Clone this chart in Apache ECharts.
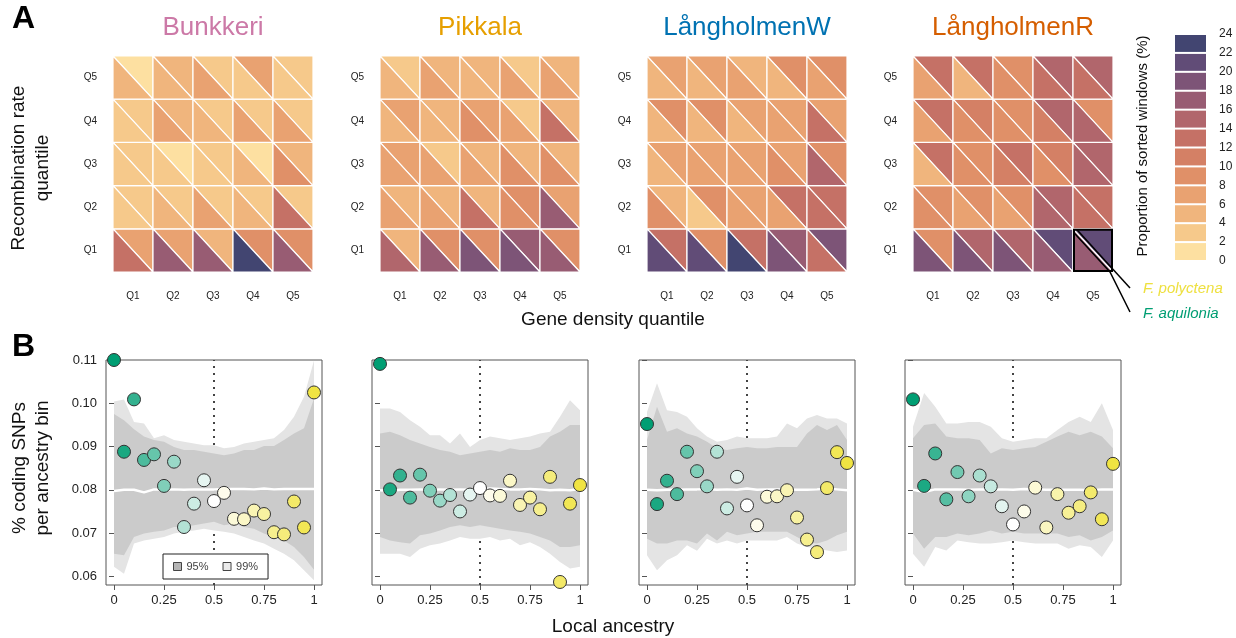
<!DOCTYPE html>
<html><head><meta charset="utf-8">
<script src="https://cdn.jsdelivr.net/npm/echarts@6/dist/echarts.min.js"></script>
<style>html,body{margin:0;padding:0;background:#fff}#c{width:1236px;height:638px}</style>
</head><body><div id="c"></div>
<script>
// ---------- Panel A data ----------
const populations = ['Bunkkeri', 'Pikkala', 'LångholmenW', 'LångholmenR'];
const popColors = ['#CC79A7', '#E69F00', '#0072B2', '#D55E00'];
const quantiles = ['Q1', 'Q2', 'Q3', 'Q4', 'Q5'];
// proportion of sorted windows (%), rows Q5 (top) .. Q1 (bottom), columns gene density Q1..Q5
// upper-right triangle = F. polyctena, lower-left triangle = F. aquilonia
const bunkkeriPolyctena = [
  [1, 5, 3, 7, 3],
  [3, 5, 3, 3, 3],
  [3, 1, 3, 1, 5],
  [3, 3, 3, 3, 3],
  [7, 7, 5, 9, 9]];
const bunkkeriAquilonia = [
  [5, 5, 7, 3, 3],
  [3, 7, 5, 7, 7],
  [3, 3, 3, 5, 9],
  [3, 5, 7, 5, 13],
  [13, 17, 17, 23, 17]];
const pikkalaPolyctena = [
  [3, 5, 5, 3, 5],
  [7, 5, 7, 3, 5],
  [7, 3, 5, 5, 5],
  [5, 5, 5, 9, 7],
  [5, 9, 9, 17, 9]];
const pikkalaAquilonia = [
  [5, 7, 5, 7, 7],
  [5, 5, 9, 7, 13],
  [7, 7, 7, 9, 9],
  [7, 7, 13, 9, 17],
  [15, 17, 19, 19, 17]];
const langWPolyctena = [
  [7, 7, 5, 9, 9],
  [9, 9, 7, 7, 7],
  [7, 7, 7, 7, 9],
  [5, 9, 7, 13, 13],
  [13, 9, 13, 17, 19]];
const langWAquilonia = [
  [5, 5, 7, 5, 7],
  [5, 5, 5, 7, 13],
  [5, 7, 7, 9, 15],
  [9, 3, 7, 7, 13],
  [21, 21, 23, 19, 13]];
const langRPolyctena = [
  [13, 13, 9, 15, 15],
  [13, 11, 9, 15, 9],
  [13, 9, 13, 11, 15],
  [9, 9, 9, 15, 13],
  [9, 15, 15, 21, 21]];
const langRAquilonia = [
  [7, 5, 9, 13, 13],
  [7, 9, 9, 11, 15],
  [5, 9, 11, 9, 15],
  [9, 7, 7, 15, 13],
  [19, 19, 19, 17, 17]];
const colorBreaks = [0, 2, 4, 6, 8, 10, 12, 14, 16, 18, 20, 22, 24];
const binColors = ['#FDE0A1', '#F6C98B', '#F0B57D', '#E9A271', '#E09068', '#D48065',
                   '#C57166', '#B1666C', '#985C73', '#7D5477', '#614C77', '#424571'];

// ---------- Panel B data ----------
const ancestryBins20 = [0, 0.05, 0.1, 0.15, 0.2, 0.25, 0.3, 0.35, 0.4, 0.45, 0.5, 0.55, 0.6, 0.65, 0.7, 0.75, 0.8, 0.85, 0.9, 0.95, 1];
const ancestryBins18 = [0, 0.0556, 0.1111, 0.1667, 0.2222, 0.2778, 0.3333, 0.3889, 0.4444, 0.5, 0.5556, 0.6111, 0.6667, 0.7222, 0.7778, 0.8333, 0.8889, 0.9444, 1];
const xTicks = [0, 0.25, 0.5, 0.75, 1];
const yTicks = [0.06, 0.07, 0.08, 0.09, 0.10, 0.11];

const bunkkeriSNPs = [0.1100, 0.0888, 0.1009, 0.0869, 0.0882, 0.0809, 0.0865, 0.0714, 0.0768, 0.0822, 0.0774, 0.0793, 0.0733, 0.0732, 0.0752, 0.0744, 0.0702, 0.0697, 0.0773, 0.0713, 0.1025];
const pikkalaSNPs = [0.1091, 0.0801, 0.0833, 0.0782, 0.0835, 0.0798, 0.0775, 0.0788, 0.0750, 0.0789, 0.0804, 0.0787, 0.0786, 0.0821, 0.0765, 0.0782, 0.0755, 0.0830, 0.0587, 0.0768, 0.0811];
const langWSNPs = [0.0952, 0.0767, 0.0821, 0.0790, 0.0888, 0.0843, 0.0808, 0.0888, 0.0757, 0.0830, 0.0764, 0.0718, 0.0784, 0.0785, 0.0799, 0.0736, 0.0685, 0.0656, 0.0804, 0.0887, 0.0862];
const langRSNPs = [0.1009, 0.0809, 0.0884, 0.0778, 0.0841, 0.0785, 0.0833, 0.0808, 0.0762, 0.0720, 0.0750, 0.0805, 0.0713, 0.0790, 0.0747, 0.0762, 0.0794, 0.0732, 0.0860];

const bunkkeriUpper99 = [0.1004, 0.1009, 0.0957, 0.0953, 0.0919, 0.0926, 0.0915, 0.0911, 0.0907, 0.0903, 0.0903, 0.0896, 0.0899, 0.0907, 0.0911, 0.0915, 0.0919, 0.0938, 0.0969, 0.1015, 0.1099];
const bunkkeriUpper95 = [0.0975, 0.0961, 0.0940, 0.0923, 0.0915, 0.0911, 0.0899, 0.0892, 0.0892, 0.0888, 0.0884, 0.0880, 0.0884, 0.0892, 0.0892, 0.0901, 0.0901, 0.0915, 0.0930, 0.0942, 0.1011];
const bunkkeriLower95 = [0.0652, 0.0649, 0.0691, 0.0699, 0.0703, 0.0706, 0.0714, 0.0714, 0.0718, 0.0722, 0.0726, 0.0718, 0.0722, 0.0714, 0.0710, 0.0699, 0.0691, 0.0683, 0.0668, 0.0645, 0.0615];
const bunkkeriLower99 = [0.0622, 0.0606, 0.0676, 0.0683, 0.0687, 0.0691, 0.0699, 0.0703, 0.0706, 0.0710, 0.0706, 0.0703, 0.0699, 0.0691, 0.0683, 0.0676, 0.0664, 0.0652, 0.0637, 0.0614, 0.0591];
const bunkkeriMedian = [0.0797, 0.0800, 0.0800, 0.0794, 0.0801, 0.0801, 0.0801, 0.0800, 0.0801, 0.0801, 0.0801, 0.0802, 0.0802, 0.0802, 0.0801, 0.0803, 0.0801, 0.0802, 0.0802, 0.0802, 0.0802];

const pikkalaUpper99 = [0.0988, 0.0988, 0.0980, 0.0961, 0.0946, 0.0926, 0.0926, 0.0907, 0.0930, 0.0899, 0.0915, 0.0923, 0.0919, 0.0915, 0.0919, 0.0923, 0.0930, 0.0934, 0.0969, 0.1007, 0.0984];
const pikkalaUpper95 = [0.0930, 0.0934, 0.0926, 0.0915, 0.0907, 0.0899, 0.0892, 0.0888, 0.0880, 0.0884, 0.0888, 0.0892, 0.0888, 0.0896, 0.0892, 0.0892, 0.0899, 0.0923, 0.0934, 0.0950, 0.0950];
const pikkalaLower95 = [0.0691, 0.0683, 0.0679, 0.0676, 0.0695, 0.0699, 0.0706, 0.0714, 0.0718, 0.0714, 0.0718, 0.0714, 0.0710, 0.0706, 0.0703, 0.0699, 0.0691, 0.0683, 0.0668, 0.0668, 0.0672];
const pikkalaLower99 = [0.0652, 0.0652, 0.0652, 0.0645, 0.0664, 0.0672, 0.0676, 0.0683, 0.0691, 0.0687, 0.0687, 0.0691, 0.0683, 0.0687, 0.0672, 0.0679, 0.0668, 0.0652, 0.0633, 0.0618, 0.0622];
const pikkalaMedian = [0.0799, 0.0797, 0.0800, 0.0800, 0.0801, 0.0800, 0.0801, 0.0800, 0.0801, 0.0800, 0.0801, 0.0803, 0.0802, 0.0801, 0.0801, 0.0802, 0.0801, 0.0799, 0.0800, 0.0799, 0.0802];

const langWUpper99 = [0.0980, 0.1046, 0.0984, 0.0980, 0.0969, 0.0942, 0.0923, 0.0911, 0.0915, 0.0923, 0.0919, 0.0919, 0.0919, 0.0923, 0.0953, 0.0942, 0.0965, 0.0973, 0.0965, 0.0965, 0.0953];
const langWUpper95 = [0.0915, 0.0992, 0.0934, 0.0942, 0.0930, 0.0923, 0.0911, 0.0896, 0.0892, 0.0896, 0.0899, 0.0896, 0.0896, 0.0899, 0.0899, 0.0899, 0.0930, 0.0950, 0.0938, 0.0950, 0.0915];
const langWLower95 = [0.0687, 0.0676, 0.0676, 0.0683, 0.0683, 0.0676, 0.0699, 0.0683, 0.0703, 0.0695, 0.0699, 0.0703, 0.0703, 0.0703, 0.0703, 0.0691, 0.0679, 0.0676, 0.0683, 0.0695, 0.0703];
const langWLower99 = [0.0649, 0.0614, 0.0637, 0.0649, 0.0672, 0.0659, 0.0687, 0.0676, 0.0683, 0.0676, 0.0683, 0.0683, 0.0683, 0.0683, 0.0691, 0.0676, 0.0668, 0.0664, 0.0660, 0.0656, 0.0660];
const langWMedian = [0.0800, 0.0799, 0.0800, 0.0800, 0.0801, 0.0801, 0.0802, 0.0800, 0.0801, 0.0800, 0.0803, 0.0800, 0.0801, 0.0801, 0.0801, 0.0800, 0.0800, 0.0801, 0.0803, 0.0801, 0.0799];

const langRUpper99 = [0.0946, 0.1024, 0.0992, 0.0953, 0.0953, 0.0957, 0.0957, 0.0946, 0.0919, 0.0911, 0.0915, 0.0919, 0.0919, 0.0938, 0.0957, 0.0969, 0.0957, 0.1000, 0.0938];
const langRUpper95 = [0.0919, 0.0950, 0.0953, 0.0923, 0.0919, 0.0919, 0.0915, 0.0884, 0.0896, 0.0892, 0.0896, 0.0899, 0.0911, 0.0923, 0.0934, 0.0926, 0.0934, 0.0923, 0.0896];
const langRLower95 = [0.0699, 0.0664, 0.0691, 0.0691, 0.0699, 0.0695, 0.0699, 0.0706, 0.0699, 0.0703, 0.0699, 0.0699, 0.0699, 0.0699, 0.0691, 0.0695, 0.0683, 0.0691, 0.0706];
const langRLower99 = [0.0652, 0.0622, 0.0668, 0.0660, 0.0683, 0.0679, 0.0676, 0.0676, 0.0679, 0.0683, 0.0679, 0.0676, 0.0676, 0.0676, 0.0664, 0.0672, 0.0668, 0.0645, 0.0683];
const langRMedian = [0.0800, 0.0795, 0.0801, 0.0801, 0.0801, 0.0800, 0.0801, 0.0801, 0.0801, 0.0800, 0.0802, 0.0801, 0.0800, 0.0800, 0.0800, 0.0800, 0.0799, 0.0801, 0.0801];

// ---------- assembly ----------
const FONT = '"Liberation Sans", Arial, Helvetica, sans-serif';
const heatPoly = [bunkkeriPolyctena, pikkalaPolyctena, langWPolyctena, langRPolyctena];
const heatAqui = [bunkkeriAquilonia, pikkalaAquilonia, langWAquilonia, langRAquilonia];
const plots = [
  {x: ancestryBins20, y: bunkkeriSNPs, u99: bunkkeriUpper99, u95: bunkkeriUpper95, l95: bunkkeriLower95, l99: bunkkeriLower99, med: bunkkeriMedian},
  {x: ancestryBins20, y: pikkalaSNPs, u99: pikkalaUpper99, u95: pikkalaUpper95, l95: pikkalaLower95, l99: pikkalaLower99, med: pikkalaMedian},
  {x: ancestryBins20, y: langWSNPs, u99: langWUpper99, u95: langWUpper95, l95: langWLower95, l99: langWLower99, med: langWMedian},
  {x: ancestryBins18, y: langRSNPs, u99: langRUpper99, u95: langRUpper95, l95: langRLower95, l99: langRLower99, med: langRMedian}
];
const highlight = {pop: 3, col: 4, row: 0};
const heatLefts = [113, 380, 647, 913];
const plotLefts = [106, 372, 639, 905];
const band99Color = '#E4E4E4', band95Color = '#CBCBCB';

function binColor(v) {
  let k = 0;
  for (let i = 0; i < colorBreaks.length - 1; i++) if (v >= colorBreaks[i]) k = i;
  return binColors[k];
}

const grid = [], xAxis = [], yAxis = [], series = [], scatterIdx = [];

// heatmaps
for (let p = 0; p < 4; p++) {
  grid.push({left: heatLefts[p], top: 56, width: 200, height: 216});
  xAxis.push({type: 'category', gridIndex: p, data: quantiles, axisLine: {show: false}, axisTick: {show: false},
    axisLabel: {fontSize: 10, color: '#222', margin: 19, fontFamily: FONT}, splitLine: {show: false}});
  yAxis.push({type: 'category', gridIndex: p, data: quantiles, axisLine: {show: false}, axisTick: {show: false},
    axisLabel: {fontSize: 10, color: '#222', margin: 16, fontFamily: FONT}, splitLine: {show: false}});
  const data = [];
  for (let r = 0; r < 5; r++) for (let c = 0; c < 5; c++)
    data.push([c, r, heatPoly[p][4 - r][c], heatAqui[p][4 - r][c]]);
  series.push({
    type: 'custom', xAxisIndex: p, yAxisIndex: p, data: data, silent: true,
    renderItem: function (params, api) {
      const ctr = api.coord([api.value(0), api.value(1)]);
      const s = api.size([1, 1]);
      const x0 = ctr[0] - s[0] / 2, x1 = ctr[0] + s[0] / 2, y0 = ctr[1] - s[1] / 2, y1 = ctr[1] + s[1] / 2;
      const children = [
        {type: 'polygon', shape: {points: [[x0, y0], [x1, y0], [x1, y1]]}, style: {fill: binColor(api.value(2)), stroke: '#fff', lineWidth: 1.2}},
        {type: 'polygon', shape: {points: [[x0, y0], [x0, y1], [x1, y1]]}, style: {fill: binColor(api.value(3)), stroke: '#fff', lineWidth: 1.2}}
      ];
      if (p === highlight.pop && api.value(0) === highlight.col && api.value(1) === highlight.row) {
        children.push({type: 'rect', z2: 10, shape: {x: x0 + 1, y: y0 + 1, width: s[0] - 2, height: s[1] - 2}, style: {fill: null, stroke: '#000', lineWidth: 2}});
        children.push({type: 'polyline', z2: 10, shape: {points: [[x0 + 4, y0 + 1], [x1 + 17, y1 + 16]]}, style: {fill: null, stroke: '#000', lineWidth: 1.5}});
        children.push({type: 'polyline', z2: 10, shape: {points: [[x0 + 1, y0 + 4], [x1 - 3, y1], [x1 + 17, y1 + 40]]}, style: {fill: null, stroke: '#000', lineWidth: 1.5}});
      }
      return {type: 'group', children: children};
    }
  });
}

// colour bar (grid 4)
grid.push({left: 1175, top: 34, width: 31, height: 227});
xAxis.push({type: 'value', gridIndex: 4, min: 0, max: 1, show: false});
yAxis.push({type: 'value', gridIndex: 4, min: 0, max: 24, interval: 2, position: 'right',
  axisLine: {show: false}, axisTick: {show: false}, splitLine: {show: false},
  axisLabel: {fontSize: 12, color: '#222', margin: 13, fontFamily: FONT}});
const barData = [];
for (let k = 0; k < binColors.length; k++) barData.push([colorBreaks[k], colorBreaks[k + 1], k]);
series.push({
  type: 'custom', xAxisIndex: 4, yAxisIndex: 4, data: barData, silent: true,
  renderItem: function (params, api) {
    const a = api.coord([0, api.value(0)]), b = api.coord([1, api.value(1)]);
    return {type: 'rect', shape: {x: a[0], y: b[1] + 1, width: b[0] - a[0], height: a[1] - b[1] - 2},
      style: {fill: binColors[api.value(2)]}};
  }
});

// panel B plots (grids 5..8)
function bandRender(pl, lo, hi, color) {
  return function (params, api) {
    const pts = [];
    for (let i = 0; i < pl.x.length; i++) pts.push(api.coord([pl.x[i], hi[i]]));
    for (let i = pl.x.length - 1; i >= 0; i--) pts.push(api.coord([pl.x[i], lo[i]]));
    return {type: 'polygon', shape: {points: pts}, style: {fill: color}};
  };
}
for (let j = 0; j < 4; j++) {
  const g = 5 + j, pl = plots[j];
  grid.push({left: plotLefts[j], top: 360, width: 216, height: 225, show: true, borderColor: '#555', borderWidth: 1, backgroundColor: 'transparent'});
  xAxis.push({type: 'value', gridIndex: g, min: -0.04, max: 1.04, splitLine: {show: false}, axisLine: {show: false},
    axisTick: {show: true, length: 5, lineStyle: {color: '#555'}, customValues: xTicks},
    axisLabel: {fontSize: 13, color: '#222', margin: 9, fontFamily: FONT, customValues: xTicks,
      formatter: v => String(Math.round(v * 100) / 100)}});
  yAxis.push({type: 'value', gridIndex: g, min: 0.058, max: 0.11, splitLine: {show: false}, axisLine: {show: false},
    axisTick: {show: true, length: 5, lineStyle: {color: '#555'}, customValues: yTicks},
    axisLabel: {show: j === 0, fontSize: 13, color: '#222', margin: 9, fontFamily: FONT, customValues: yTicks,
      formatter: v => v.toFixed(2)}});
  series.push({type: 'line', xAxisIndex: g, yAxisIndex: g, z: 1, silent: true, symbol: 'none',
    data: [[0.5, 0.058], [0.5, 0.11]], lineStyle: {color: '#444', width: 2, type: [2, 5]}});
  series.push({type: 'custom', name: '99%', xAxisIndex: g, yAxisIndex: g, z: 2, silent: true, data: [[0.5, 0.08]],
    itemStyle: {color: band99Color}, renderItem: bandRender(pl, pl.l99, pl.u99, band99Color)});
  series.push({type: 'custom', name: '95%', xAxisIndex: g, yAxisIndex: g, z: 3, silent: true, data: [[0.5, 0.08]],
    itemStyle: {color: band95Color}, renderItem: bandRender(pl, pl.l95, pl.u95, band95Color)});
  series.push({type: 'line', xAxisIndex: g, yAxisIndex: g, z: 4, silent: true, symbol: 'none',
    data: pl.x.map((x, i) => [x, pl.med[i]]), lineStyle: {color: '#fff', width: 2.5}});
  scatterIdx.push(series.length);
  series.push({type: 'scatter', xAxisIndex: g, yAxisIndex: g, z: 5, clip: false, symbolSize: 13,
    data: pl.x.map((x, i) => [x, pl.y[i]]), itemStyle: {borderColor: '#333', borderWidth: 1, opacity: 1}});
}

const txt = (t, x, y, size, extra) => Object.assign({type: 'text', x: x, y: y, silent: true,
  style: Object.assign({text: t, fontSize: size, fontFamily: FONT, fill: '#111', align: 'center', verticalAlign: 'middle'}, (extra || {}).style || {})},
  (extra || {}).el || {});

const graphic = [
  txt('A', 12, 19, 32, {style: {fontWeight: 'bold', align: 'left', fill: '#000'}}),
  txt('B', 12, 347, 32, {style: {fontWeight: 'bold', align: 'left', fill: '#000'}}),
  txt('Recombination rate', 19, 168, 19, {el: {rotation: Math.PI / 2}}),
  txt('quantile', 43, 168, 19, {el: {rotation: Math.PI / 2}}),
  txt('Gene density quantile', 613, 320, 19),
  txt('% coding SNPs', 20, 468, 19, {el: {rotation: Math.PI / 2}}),
  txt('per ancestry bin', 43, 468, 19, {el: {rotation: Math.PI / 2}}),
  txt('Local ancestry', 613, 627, 19),
  txt('Proportion of sorted windows (%)', 1143, 146, 15, {el: {rotation: Math.PI / 2}}),
  txt('F. polyctena', 1143, 289, 15, {style: {align: 'left', fontStyle: 'italic', fill: '#EEE040'}}),
  txt('F. aquilonia', 1143, 314, 15, {style: {align: 'left', fontStyle: 'italic', fill: '#009E73'}})
];
for (let p = 0; p < 4; p++) graphic.push(txt(populations[p], heatLefts[p] + 100, 28, 26, {style: {fill: popColors[p]}}));

const option = {
  animation: false,
  backgroundColor: '#fff',
  textStyle: {fontFamily: FONT},
  grid: grid, xAxis: xAxis, yAxis: yAxis, series: series,
  visualMap: {type: 'continuous', show: false, dimension: 0, min: 0, max: 1, seriesIndex: scatterIdx,
    inRange: {color: ['#009E73', '#FFFFFF', '#F0E442']}},
  legend: {left: 163, top: 554, z: 10, orient: 'horizontal', selectedMode: false, backgroundColor: '#fff',
    borderColor: '#222', borderWidth: 1, borderRadius: 0, padding: [7, 10], itemWidth: 8, itemHeight: 8, itemGap: 14,
    textStyle: {fontSize: 11, color: '#444', fontFamily: FONT},
    data: [{name: '95%', icon: 'rect', itemStyle: {color: '#B5B5B5', borderColor: '#444', borderWidth: 1}},
           {name: '99%', icon: 'rect', itemStyle: {color: '#EAEAEA', borderColor: '#444', borderWidth: 1}}]},
  graphic: graphic
};
const chart = echarts.init(document.getElementById('c'));
chart.setOption(option);
</script></body></html>
